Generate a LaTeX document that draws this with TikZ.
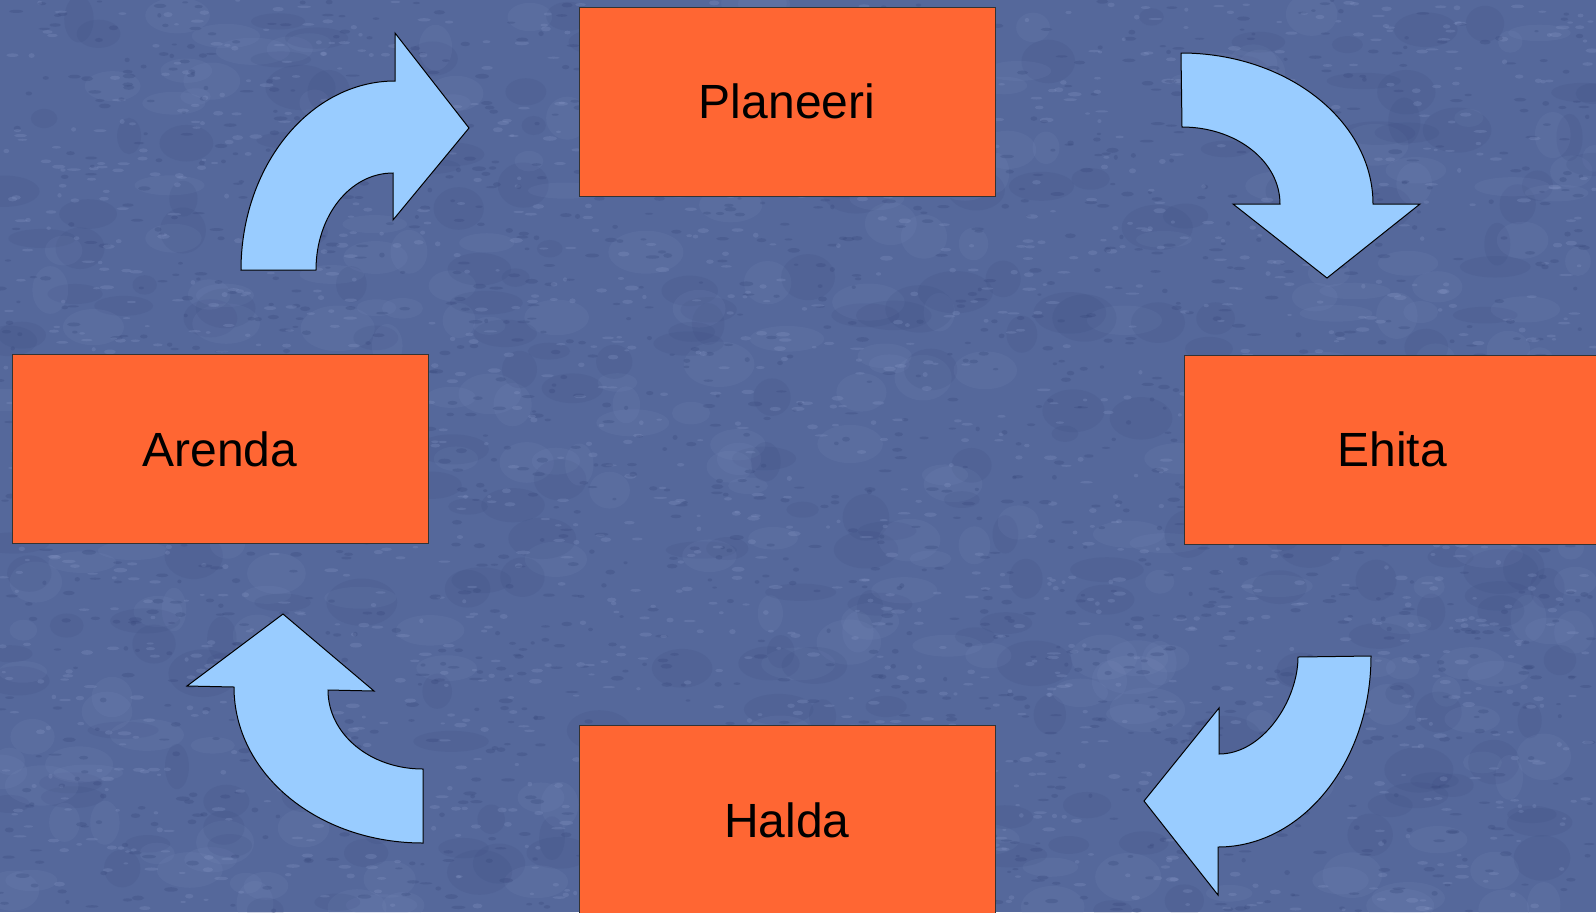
\documentclass[tikz,border=0pt]{standalone}
\usepackage{fontspec}
\setmainfont{Liberation Sans}
\definecolor{bgblue}{HTML}{55689B}
\definecolor{bgdark}{HTML}{36467A}
\definecolor{bglight}{HTML}{8A9BCA}
\definecolor{boxorange}{HTML}{FF6633}
\definecolor{arrowblue}{HTML}{99CCFF}
\begin{document}
\begin{tikzpicture}[x=0.5pt,y=-0.5pt,
  stagebox/.style={draw=black!80, line width=0.5pt, fill=boxorange,
    minimum width=208pt, minimum height=94.5pt, inner sep=0pt,
    font=\fontsize{24}{28}\selectfont, text=black},
  bentarrow/.style={draw=black, line width=0.5pt, fill=arrowblue, line join=miter}]
\useasboundingbox (0,0) rectangle (1596,912);
\fill[bgblue] (0,0) rectangle (1596,912);
\begin{scope}
\clip (0,0) rectangle (1596,912);
\pgfmathsetseed{4242}
% medium mottling
\foreach \i in {1,...,550}{
  \pgfmathsetmacro{\px}{rnd*1596}
  \pgfmathsetmacro{\py}{rnd*912}
  \pgfmathsetmacro{\rw}{12+rnd*26}
  \pgfmathsetmacro{\rh}{8+rnd*16}
  \pgfmathsetmacro{\pick}{rnd}
  \ifdim\pick pt<0.5pt
    \fill[bgdark, opacity=0.12] (\px,\py) ellipse [x radius=\rw, y radius=\rh];
  \else
    \fill[bglight, opacity=0.10] (\px,\py) ellipse [x radius=\rw, y radius=\rh];
  \fi
}
% fine fibre-like grain
\foreach \i in {1,...,3500}{
  \pgfmathsetmacro{\px}{rnd*1596}
  \pgfmathsetmacro{\py}{rnd*912}
  \pgfmathsetmacro{\rw}{2+rnd*5}
  \pgfmathsetmacro{\rh}{1+rnd*1.5}
  \pgfmathsetmacro{\pick}{rnd}
  \ifdim\pick pt<0.5pt
    \fill[bgdark, opacity=0.28] (\px,\py) ellipse [x radius=\rw, y radius=\rh];
  \else
    \fill[bglight, opacity=0.25] (\px,\py) ellipse [x radius=\rw, y radius=\rh];
  \fi
}
\end{scope}

\node[stagebox] (planeeri) at (787,101.5) {Planeeri};
\node[stagebox] (arenda) at (220,449) {Arenda};
\node[stagebox] (ehita) at (1392,449.5) {Ehita};
\node[stagebox] (halda) at (787,820) {Halda};

% top-left arrow (Arenda -> Planeeri)
\draw[bentarrow] (241,270) .. controls (241,166) and (310,81) .. (395,81)
  -- (395,33) -- (469,128) -- (393,220) -- (393,173)
  .. controls (350,173) and (316,216) .. (316,270) -- cycle;
% top-right arrow (Planeeri -> Ehita)
\draw[bentarrow] (1181,53) .. controls (1287,53) and (1373,121) .. (1373,204)
  -- (1420,204) -- (1327,278) -- (1233,204) -- (1280,204)
  .. controls (1280,161) and (1236,127) .. (1182,127) -- cycle;
% bottom-right arrow (Ehita -> Halda)
\draw[bentarrow] (1298,657) -- (1371,656) .. controls (1371,762) and (1302,847) .. (1218,847)
  -- (1218,895) -- (1144,801) -- (1219,708) -- (1219,754)
  .. controls (1263,754) and (1298,700) .. (1298,657) -- cycle;
% bottom-left arrow (Halda -> Arenda)
\draw[bentarrow] (423,843) .. controls (318,843) and (234,774) .. (234,687)
  -- (187,686) -- (283,614) -- (374,691) -- (328,690)
  .. controls (328,734) and (370,769) .. (423,769) -- cycle;
\end{tikzpicture}
\end{document}
